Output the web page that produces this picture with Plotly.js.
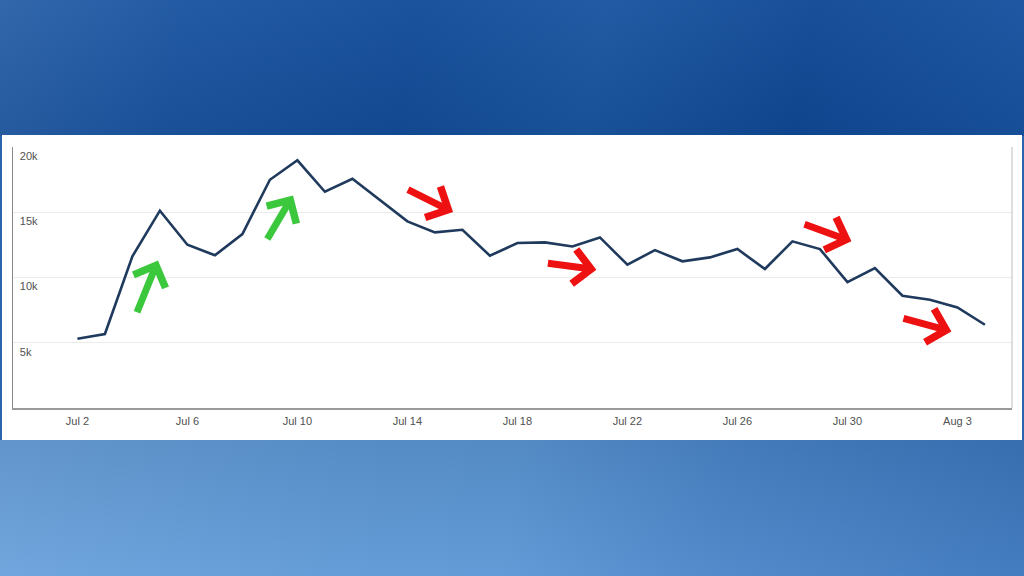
<!DOCTYPE html>
<html>
<head>
<meta charset="utf-8">
<script src="https://cdn.plot.ly/plotly-3.0.1.min.js"></script>
<style>
  html, body { margin:0; padding:0; width:1024px; height:576px; overflow:hidden; }
  body { position: relative; background: #2a65b0; }
  #top { position:absolute; left:0; top:0; width:1024px; height:136px;
    background: linear-gradient(100deg, #2a61a8 0%, #1a54a0 18%, #124c98 40%, #1a55a0 58%, #0f4894 78%, #1852a0 100%); }
  #topshade { position:absolute; left:0; top:0; width:1024px; height:136px;
    background: linear-gradient(180deg, rgba(255,255,255,0.04) 0%, rgba(0,0,0,0.05) 100%); }
  #bot { position:absolute; left:0; top:440px; width:1024px; height:136px;
    background: linear-gradient(100deg, #6aa2dc 0%, #5d98d6 35%, #5a96d5 50%, #4a85c9 70%, #3a76bd 100%); }
  #botshade { position:absolute; left:0; top:440px; width:1024px; height:136px;
    background: linear-gradient(180deg, rgba(0,0,0,0.08) 0%, rgba(255,255,255,0.05) 100%); }
  #panel { position:absolute; left:2px; top:135px; width:1020px; height:305px; background:#ffffff; }
  #chart { position:absolute; left:0; top:0; width:1024px; height:576px; }
</style>
</head>
<body>
<div id="top"></div><div id="topshade"></div>
<div id="bot"></div><div id="botshade"></div>
<div id="panel"></div>
<div id="chart"></div>
<script>
// Data
const dates = [
  '2023-07-02','2023-07-03','2023-07-04','2023-07-05','2023-07-06','2023-07-07','2023-07-08',
  '2023-07-09','2023-07-10','2023-07-11','2023-07-12','2023-07-13','2023-07-14','2023-07-15',
  '2023-07-16','2023-07-17','2023-07-18','2023-07-19','2023-07-20','2023-07-21','2023-07-22',
  '2023-07-23','2023-07-24','2023-07-25','2023-07-26','2023-07-27','2023-07-28','2023-07-29',
  '2023-07-30','2023-07-31','2023-08-01','2023-08-02','2023-08-03','2023-08-04'
];
const values = [
  5310, 5670, 11620, 15120, 12510, 11700, 13330,
  17490, 18980, 16570, 17570, 15940, 14300, 13460,
  13660, 11670, 12640, 12690, 12380, 13070, 10980,
  12100, 11240, 11540, 12180, 10650, 12770, 12180,
  9650, 10730, 8600, 8300, 7710, 6380
];
const xTickVals = ['2023-07-02','2023-07-06','2023-07-10','2023-07-14','2023-07-18','2023-07-22','2023-07-26','2023-07-30','2023-08-03'];
const xTickText = ['Jul 2','Jul 6','Jul 10','Jul 14','Jul 18','Jul 22','Jul 26','Jul 30','Aug 3'];
const yTickVals = [5000, 10000, 15000, 20000];
const yTickText = ['5k','10k','15k','20k'];

// Decorative arrows: tip (date, value) and tail pixel offset
const arrowTipX = ['2023-07-04 22:20','2023-07-09 20:10','2023-07-15 15:50','2023-07-20 20:55','2023-07-30 03:30','2023-08-02 18:45'];
const arrowTipY = [11310, 16290, 15020, 10600, 12770, 5870];
const arrowAx = [-21.6, -26.6, -46.6, -50, -48.4, -49.4];
const arrowAy = [53.3, 45, -23, -6.7, -17.7, -13.4];
const arrowColor = ['#3cc83c','#3cc83c','#ee1111','#ee1111','#ee1111','#ee1111'];

const annotations = arrowTipX.map((x, i) => ({
  x: x, y: arrowTipY[i], xref: 'x', yref: 'y',
  ax: arrowAx[i], ay: arrowAy[i], axref: 'pixel', ayref: 'pixel',
  text: '', showarrow: true, arrowhead: 4, arrowsize: 0.95, arrowwidth: 7,
  arrowcolor: arrowColor[i], standoff: 0
}));

const trace = {
  x: dates, y: values, type: 'scatter', mode: 'lines',
  line: { color: '#1f3a5c', width: 2.6 },
  hoverinfo: 'skip'
};

const layout = {
  width: 1024, height: 576,
  margin: { l: 13, r: 12, t: 147, b: 168, pad: 0 },
  paper_bgcolor: 'rgba(0,0,0,0)',
  plot_bgcolor: '#ffffff',
  showlegend: false,
  font: { family: 'Liberation Sans, Arial, sans-serif', size: 11, color: '#555555' },
  xaxis: {
    type: 'date',
    range: ['2023-06-29 15:48', '2023-08-04 23:38'],
    tickmode: 'array', tickvals: xTickVals, ticktext: xTickText,
    showgrid: false, zeroline: false,
    showline: true, linecolor: '#9a9a9a', linewidth: 1.5,
    ticks: '', ticklabelstandoff: 2,
    tickfont: { family: 'Liberation Sans, Arial, sans-serif', size: 11, color: '#505050' }
  },
  yaxis: {
    range: [0, 20000],
    tickmode: 'array', tickvals: yTickVals, ticktext: yTickText,
    showgrid: true, gridcolor: '#ebebeb', gridwidth: 1,
    zeroline: false,
    showline: true, linecolor: '#8a8a8a', linewidth: 1.5,
    ticks: '', ticklabelposition: 'inside', ticklabelshift: 9, ticklabelstandoff: 6,
    tickfont: { family: 'Liberation Sans, Arial, sans-serif', size: 11, color: '#505050' }
  },
  shapes: [
    { type: 'line', xref: 'paper', yref: 'paper', x0: 1, x1: 1, y0: 0, y1: 1,
      line: { color: '#c8c8c8', width: 1.2 } }
  ],
  annotations: annotations
};

Plotly.newPlot('chart', [trace], layout, { staticPlot: true, displayModeBar: false });
</script>
</body>
</html>
